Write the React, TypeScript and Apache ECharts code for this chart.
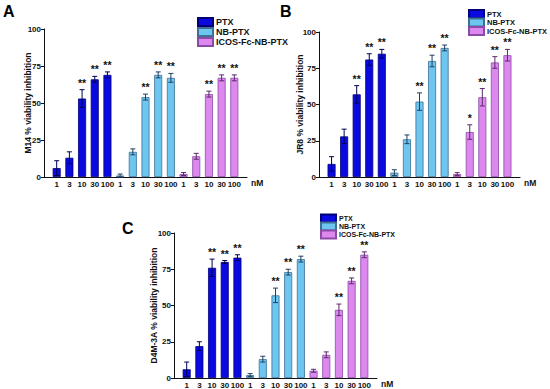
import React, { useEffect, useRef } from 'react';
import * as echarts from 'echarts';

const doses = ['1', '3', '10', '30', '100'];
const groupNames = ['PTX', 'NB-PTX', 'ICOS-Fc-NB-PTX'];

// Panel A – M14
const m14PTX = [6, 13, 53, 66, 69];
const m14PTXErr = [5, 4, 6, 2, 2];
const m14NB = [1, 17, 54, 69, 67];
const m14NBErr = [1, 2, 2, 2, 3];
const m14ICOS = [2, 14, 56, 67, 67];
const m14ICOSErr = [1, 2, 2, 2, 2];
const m14Sig = ['', '', '**', '**', '**', '', '', '**', '**', '**', '', '', '**', '**', '**'];

// Panel B – JR8
const jr8PTX = [9, 28, 57, 81, 85];
const jr8PTXErr = [5, 5, 6, 4, 3];
const jr8NB = [3, 26, 52, 80, 89];
const jr8NBErr = [2, 3, 6, 4, 2];
const jr8ICOS = [2, 31, 55, 79, 84];
const jr8ICOSErr = [1, 5, 6, 4, 4];
const jr8Sig = ['', '', '**', '**', '**', '', '', '**', '**', '**', '', '*', '**', '**', '**'];

// Panel C – D4M-3A
const d4mPTX = [6, 22, 76, 80, 83];
const d4mPTXErr = [5, 3, 6, 1, 2];
const d4mNB = [2, 13, 57, 73, 82];
const d4mNBErr = [1, 2, 5, 2, 2];
const d4mICOS = [5, 16, 47, 67, 85];
const d4mICOSErr = [1, 2, 4, 2, 2];
const d4mSig = ['', '', '**', '**', '**', '', '', '**', '**', '**', '', '', '**', '**', '**'];

const yTicks = [0, 25, 50, 75, 100];

const FONT = 'Liberation Sans, Arial, sans-serif';
const fills = ['#0a0ae0', '#6cc6f0', '#dd88ee'];
const borders = ['#00007a', '#3f6f95', '#8a4aa6'];
const errColors = ['#000050', '#1f3f5f', '#5a2a6a'];

const panels = [
  {
    yName: 'M14 % viability inhibition', letter: 'A',
    grid: { left: 44, top: 29, width: 203, height: 148 },
    nameGap: 12, letterPos: [3, 3],
    legend: { left: 197, top: 17, font: 9, lh: 9, gap: 0 },
    vals: [m14PTX, m14NB, m14ICOS], errs: [m14PTXErr, m14NBErr, m14ICOSErr], sig: m14Sig,
  },
  {
    yName: 'JR8 % viability inhibition', letter: 'B',
    grid: { left: 319, top: 32, width: 201, height: 145 },
    nameGap: 15, letterPos: [280, 3],
    legend: { left: 468, top: 9, font: 7.5, lh: 8, gap: -1.5 },
    vals: [jr8PTX, jr8NB, jr8ICOS], errs: [jr8PTXErr, jr8NBErr, jr8ICOSErr], sig: jr8Sig,
  },
  {
    yName: 'D4M-3A % viability inhibition', letter: 'C',
    grid: { left: 174, top: 233, width: 203, height: 145 },
    nameGap: 16, letterPos: [122, 220],
    legend: { left: 320, top: 213.5, font: 7, lh: 8, gap: -2 },
    vals: [d4mPTX, d4mNB, d4mICOS], errs: [d4mPTXErr, d4mNBErr, d4mICOSErr], sig: d4mSig,
  },
];

const categories = ['', ...doses, ...doses, ...doses, ''];

function buildOption() {
  const grid: any[] = [];
  const xAxis: any[] = [];
  const yAxis: any[] = [];
  const series: any[] = [];
  const legend: any[] = [];
  const graphic: any[] = [];

  panels.forEach((p, pi) => {
    grid.push({ ...p.grid, containLabel: false });
    xAxis.push({
      type: 'category', gridIndex: pi, data: categories, boundaryGap: false,
      axisLine: { show: true, lineStyle: { color: '#111', width: 1 } },
      axisTick: { show: false },
      axisLabel: { interval: 0, margin: 3, fontSize: 8, fontWeight: 'bold', color: '#111', fontFamily: FONT },
      splitLine: { show: false },
      name: 'nM', nameLocation: 'end', nameGap: 4, nameMoveOverlap: false,
      nameTextStyle: { fontSize: 8.5, fontWeight: 'bold', color: '#111', fontFamily: FONT, verticalAlign: 'top', padding: [1, 0, 0, 0] },
    });
    yAxis.push({
      type: 'value', gridIndex: pi, min: yTicks[0], max: yTicks[yTicks.length - 1], interval: 25,
      axisLine: { show: true, lineStyle: { color: '#111', width: 1 } },
      axisTick: { show: true, inside: false, length: 3, lineStyle: { color: '#111' } },
      axisLabel: { margin: 3, fontSize: 8, fontWeight: 'bold', color: '#111', fontFamily: FONT },
      splitLine: { show: false },
      name: p.yName, nameLocation: 'middle', nameGap: p.nameGap, nameRotate: 90, nameMoveOverlap: false,
      nameTextStyle: { fontSize: 8.5, fontWeight: 'bold', color: '#111', fontFamily: FONT },
    });

    const errData: any[] = [];
    const sigList: string[] = [];
    p.vals.forEach((arr, gi) => {
      const data: any[] = categories.map(() => null);
      arr.forEach((v, di) => {
        const idx = gi * 5 + di + 1;
        data[idx] = v;
        errData.push([idx, v, p.errs[gi][di], gi]);
        sigList.push(p.sig[gi * 5 + di]);
      });
      series.push({
        type: 'bar', name: groupNames[gi], xAxisIndex: pi, yAxisIndex: pi,
        data, barWidth: 8, barGap: '-100%',
        itemStyle: { color: fills[gi], borderColor: borders[gi], borderWidth: 0.8 },
      });
    });
    series.push({
      type: 'custom', name: 'err' + pi, xAxisIndex: pi, yAxisIndex: pi, z: 5,
      data: errData,
      renderItem: (params: any, api: any) => {
        const x = api.value(0), v = api.value(1), e = api.value(2), g = api.value(3);
        const top = api.coord([x, v + e]);
        const bot = api.coord([x, Math.max(v - e, 0)]);
        const c = errColors[g];
        const st = { stroke: c, lineWidth: 1 };
        const ch: any[] = [
          { type: 'line', shape: { x1: top[0], y1: top[1], x2: bot[0], y2: bot[1] }, style: st },
          { type: 'line', shape: { x1: top[0] - 2.5, y1: top[1], x2: top[0] + 2.5, y2: top[1] }, style: st },
          { type: 'line', shape: { x1: bot[0] - 2.5, y1: bot[1], x2: bot[0] + 2.5, y2: bot[1] }, style: st },
        ];
        const s = sigList[params.dataIndex];
        if (s) {
          ch.push({
            type: 'text', x: top[0], y: top[1] - 1.5,
            style: {
              text: s, fill: '#111', font: `bold 10.5px ${FONT}`,
              textAlign: 'center', align: 'center', textVerticalAlign: 'bottom', verticalAlign: 'bottom',
            },
          });
        }
        return { type: 'group', children: ch };
      },
    });

    legend.push({
      orient: 'vertical', left: p.legend.left, top: p.legend.top,
      itemWidth: 15, itemHeight: 8, itemGap: p.legend.gap, selectedMode: false,
      padding: 0,
      data: groupNames.map((n) => ({ name: n, icon: 'rect' })),
      textStyle: { fontSize: p.legend.font, lineHeight: p.legend.lh, fontWeight: 'bold', color: '#111', fontFamily: FONT, padding: [0, 0, 0, -2] },
    });

    graphic.push({
      type: 'text', left: p.letterPos[0], top: p.letterPos[1],
      style: { text: p.letter, font: `bold 16px ${FONT}`, fill: '#000' },
    });
  });

  return { animation: false, backgroundColor: '#fff', grid, xAxis, yAxis, series, legend, graphic };
}

export default function App() {
  const ref = useRef<HTMLDivElement>(null);
  useEffect(() => {
    if (!ref.current) return;
    const chart = echarts.init(ref.current, undefined, { renderer: 'svg' });
    chart.setOption(buildOption() as any);
    return () => chart.dispose();
  }, []);
  return <div ref={ref} style={{ position: 'fixed', left: 0, top: 0, width: 550, height: 389 }} />;
}
